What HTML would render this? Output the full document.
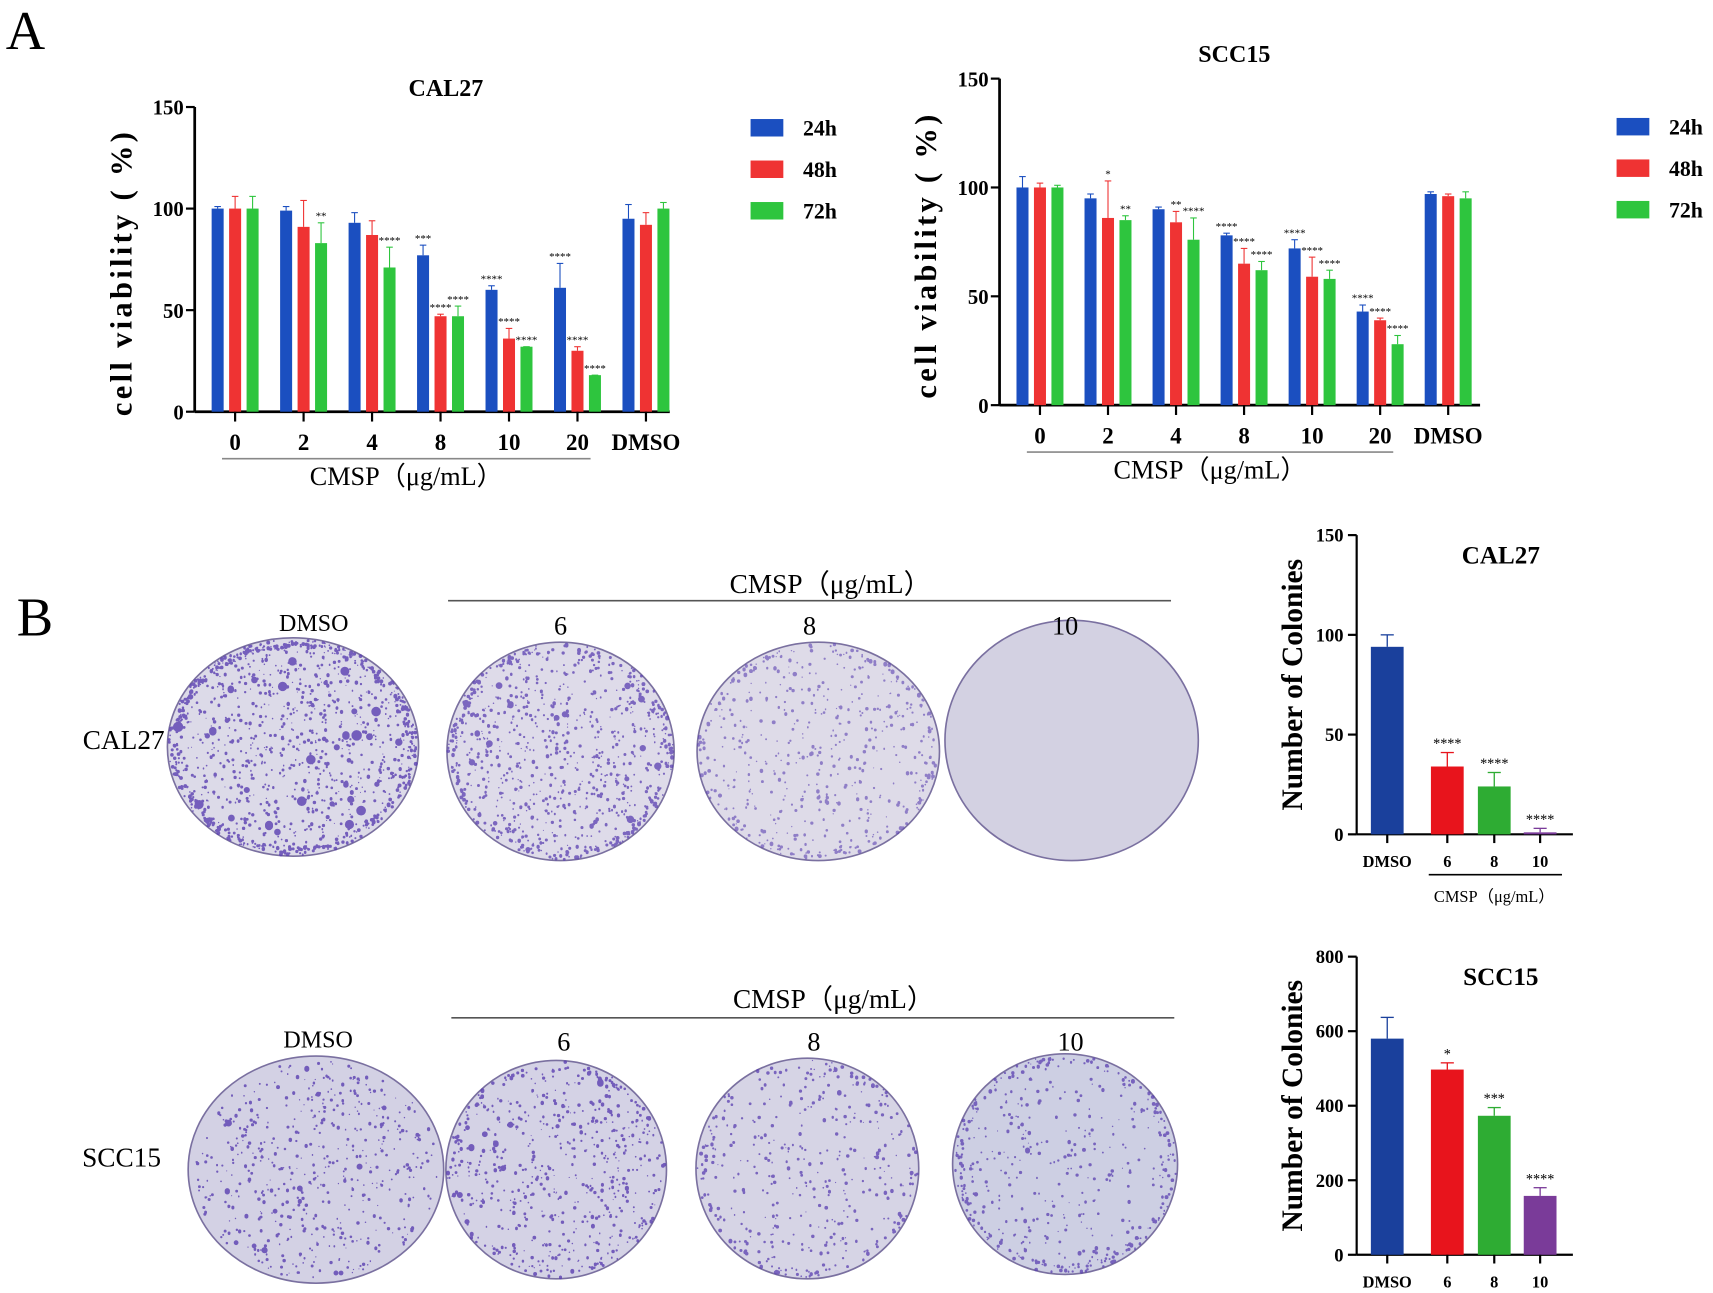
<!DOCTYPE html>
<html><head><meta charset="utf-8"><style>
html,body{margin:0;padding:0;background:#fff}
svg{display:block}
text{font-family:"Liberation Serif",serif}
</style></head><body>
<svg id="fig" width="1713" height="1293" viewBox="0 0 1568 1184" xmlns="http://www.w3.org/2000/svg">
<text x="5" y="45" font-size="50">A</text>
<text x="15" y="582" font-size="50">B</text>
<g id="dishes"></g>
<g id="charts"></g>
</svg>
<script>
// ---- CAL27 viability data ----
const vCats = ["0","2","4","8","10","20","DMSO"];
const seriesNames = ["24h","48h","72h"];
const seriesColors = ["#1b4fc0","#ef3333","#2ec53e"];
const cal24 = [100,99,93,77,60,61,95];
const cal48 = [100,91,87,47,36,30,92];
const cal72 = [100,83,71,47,32,18,100];
const cal24e = [1,2,5,5,2,12,7];
const cal48e = [6,13,7,1,5,2,6];
const cal72e = [6,10,10,5,0,0,3];
const cal24s = ["","","","***","****","****",""];
const cal48s = ["","","","****","****","****",""];
const cal72s = ["","**","****","****","****","****",""];
// ---- SCC15 viability data ----
const scc24 = [100,95,90,78,72,43,97];
const scc48 = [100,86,84,65,59,39,96];
const scc72 = [100,85,76,62,58,28,95];
const scc24e = [5,2,1,1,4,3,1];
const scc48e = [2,17,5,7,9,1,1];
const scc72e = [1,2,10,4,4,4,3];
const scc24s = ["","","","****","****","****",""];
const scc48s = ["","*","**","****","****","****",""];
const scc72s = ["","**","****","****","****","****",""];
const vTicks = [0,50,100,150];
// ---- colonies ----
const cCats = ["DMSO","6","8","10"];
const cColors = ["#1a409c","#e8141c","#2eac33","#7a3b99"];
const colCal = [94,34,24,1];
const colCalE = [6,7,7,2];
const colCalS = ["","****","****","****"];
const colCalTicks = [0,50,100,150];
const colScc = [580,497,373,158];
const colSccE = [57,18,22,22];
const colSccS = ["","*","***","****"];
const colSccTicks = [0,200,400,600,800];

const NS="http://www.w3.org/2000/svg";
function mk(parent,tag,attrs,txt){const e=document.createElementNS(NS,tag);for(const k in attrs)e.setAttribute(k,attrs[k]);if(txt!==undefined)e.textContent=txt;parent.appendChild(e);return e;}
const charts=document.getElementById('charts');

function viability(cfg){
  const g=mk(charts,'g',{});
  
  
  const y=v=>cfg.y0-(v/150)*(cfg.y0-cfg.y150);
  const x=i=>cfg.x0+i*cfg.step;
  mk(g,'line',{x1:cfg.ax,y1:cfg.y150,x2:cfg.ax,y2:cfg.y0,stroke:'#000','stroke-width':2.5});
  mk(g,'line',{x1:cfg.ax,y1:cfg.y0,x2:cfg.axEnd,y2:cfg.y0,stroke:'#000','stroke-width':2.5});
  vTicks.forEach(t=>{
    mk(g,'line',{x1:cfg.ax-8,y1:y(t),x2:cfg.ax,y2:y(t),stroke:'#000','stroke-width':2});
    const tl=mk(g,'text',{x:cfg.ax-10,y:y(t)+7,'font-size':19,'font-weight':'bold','text-anchor':'end','font-family':'Liberation Sans, sans-serif'},t);
    
    
  });
  const bw=11, off=16;
  cfg.vals.forEach((arr,s)=>{
    arr.forEach((v,i)=>{
      const cx=x(i)+(s-1)*off;
      const c=seriesColors[s];
      const e=cfg.errs[s][i];
      mk(g,'line',{x1:cx,y1:y(v),x2:cx,y2:y(v+e),stroke:c,'stroke-width':1});
      mk(g,'line',{x1:cx-3,y1:y(v+e),x2:cx+3,y2:y(v+e),stroke:c,'stroke-width':1});
      const r=mk(g,'rect',{x:cx-bw/2,y:y(v),width:bw,height:y(0)-y(v),fill:c});
      
      
      const st=cfg.stars[s][i];
      if(st){mk(g,'text',{x:cx,y:y(v+e)-3,'font-size':10,'text-anchor':'middle','font-family':'Liberation Sans, sans-serif'},st);}
    });
  });
  vCats.forEach((c,i)=>{
    mk(g,'line',{x1:x(i),y1:cfg.y0,x2:x(i),y2:cfg.y0+9,stroke:'#000','stroke-width':2});
    const t=mk(g,'text',{x:x(i),y:cfg.y0+35,'font-size':21,'font-weight':'bold','text-anchor':'middle'},c);
    
    
  });
  mk(g,'line',{x1:x(0)-12,y1:cfg.y0+43,x2:x(5)+12,y2:cfg.y0+43,stroke:'#888','stroke-width':1.5});
  const xt=mk(g,'text',{x:(x(0)+x(5))/2,y:cfg.y0+67,'font-size':24,'text-anchor':'middle'},'CMSP（μg/mL）');
  
  
  const yt=mk(g,'text',{x:0,y:0,'font-size':28,'font-weight':'bold','text-anchor':'middle',transform:`translate(${cfg.ax-58},${(cfg.y0+cfg.y150)/2+12}) rotate(-90)`,'letter-spacing':'3'},'cell viability ( %)');
  
  
  const tt=mk(g,'text',{x:cfg.titleX,y:cfg.titleY,'font-size':22,'font-weight':'bold','text-anchor':'middle'},cfg.title);
  
  
  seriesNames.forEach((n,s)=>{
    const ly=cfg.legY+s*38;
    const r=mk(g,'rect',{x:cfg.legX,y:ly-8,width:30,height:16,fill:seriesColors[s]});
    
    
    const t=mk(g,'text',{x:cfg.legX+48,y:ly+7,'font-size':20,'font-weight':'bold'},n);
    
    
  });
}
viability({name:'cal27-viability-chart',title:'CAL27',titleX:408,titleY:88,ax:178,axEnd:613,y0:377,y150:98,x0:215,step:62.7,
  vals:[cal24,cal48,cal72],errs:[cal24e,cal48e,cal72e],stars:[cal24s,cal48s,cal72s],legX:687,legY:117});
viability({name:'scc15-viability-chart',title:'SCC15',titleX:1130,titleY:57,ax:915,axEnd:1355,y0:371,y150:72,x0:952,step:62.3,
  vals:[scc24,scc48,scc72],errs:[scc24e,scc48e,scc72e],stars:[scc24s,scc48s,scc72s],legX:1480,legY:116});

function colonies(cfg){
  const g=mk(charts,'g',{});
  
  
  const max=cfg.ticks[cfg.ticks.length-1];
  const y=v=>cfg.y0-(v/max)*(cfg.y0-cfg.yTop);
  const sp=cfg.xs;
  mk(g,'line',{x1:cfg.ax,y1:cfg.yTop,x2:cfg.ax,y2:cfg.y0,stroke:'#000','stroke-width':2});
  mk(g,'line',{x1:cfg.ax,y1:cfg.y0,x2:1440,y2:cfg.y0,stroke:'#000','stroke-width':2});
  cfg.ticks.forEach(t=>{
    mk(g,'line',{x1:cfg.ax-8,y1:y(t),x2:cfg.ax,y2:y(t),stroke:'#000','stroke-width':2});
    const tl=mk(g,'text',{x:cfg.ax-12,y:y(t)+6,'font-size':17,'font-weight':'bold','text-anchor':'end','font-family':'Liberation Sans, sans-serif'},t);
    
    
  });
  cfg.vals.forEach((v,i)=>{
    const cx=sp[i], e=cfg.errs[i], c=cColors[i];
    mk(g,'line',{x1:cx,y1:y(v),x2:cx,y2:y(v+e),stroke:c,'stroke-width':1.2});
    mk(g,'line',{x1:cx-6,y1:y(v+e),x2:cx+6,y2:y(v+e),stroke:c,'stroke-width':1.2});
    const r=mk(g,'rect',{x:cx-15,y:y(v),width:30,height:y(0)-y(v),fill:c});
    
    
    if(cfg.stars[i]) mk(g,'text',{x:cx,y:y(v+e)-4,'font-size':13,'text-anchor':'middle','font-family':'Liberation Sans, sans-serif'},cfg.stars[i]);
    mk(g,'line',{x1:cx,y1:cfg.y0,x2:cx,y2:cfg.y0+8,stroke:'#000','stroke-width':2});
    const t=mk(g,'text',{x:cx,y:cfg.y0+30,'font-size':15,'font-weight':'bold','text-anchor':'middle'},cCats[i]);
    
    
  });
  const yt=mk(g,'text',{x:0,y:0,'font-size':27,'font-weight':'bold','text-anchor':'middle',transform:`translate(${cfg.ax-50},${(cfg.y0+cfg.yTop)/2}) rotate(-90)`},'Number of Colonies');
  
  
  const tt=mk(g,'text',{x:1374,y:cfg.yTop+26,'font-size':23,'font-weight':'bold','text-anchor':'middle'},cfg.title);
  
  
  if(cfg.cmsp){
    mk(g,'line',{x1:1308,y1:cfg.y0+37,x2:1430,y2:cfg.y0+37,stroke:'#000','stroke-width':1.5});
    mk(g,'text',{x:1368,y:cfg.y0+62,'font-size':15,'text-anchor':'middle'},'CMSP（μg/mL）');
  }
}
colonies({name:'cal27-colonies-chart',title:'CAL27',ax:1242,y0:764,yTop:490,ticks:colCalTicks,vals:colCal,errs:colCalE,stars:colCalS,xs:[1270,1325,1368,1410],cmsp:true});
colonies({name:'scc15-colonies-chart',title:'SCC15',ax:1242,y0:1149,yTop:876,ticks:colSccTicks,vals:colScc,errs:colSccE,stars:colSccS,xs:[1270,1325,1368,1410],cmsp:false});

// ---- dishes (decorative photographs) ----
const D=document.getElementById('dishes');
let seed=7;function rnd(){seed=(seed*16807)%2147483647;return seed/2147483647;}
function dot(px,py,r){return `M${(px-r).toFixed(1)},${py.toFixed(1)}a${r.toFixed(1)},${r.toFixed(1)} 0 1,0 ${(2*r).toFixed(1)},0a${r.toFixed(1)},${r.toFixed(1)} 0 1,0 ${(-2*r).toFixed(1)},0`;}
function dish(name,cx,cy,rx,ry,n,big,fill,rimDots,op){
  const g=mk(D,'g',{});
  
  
  mk(g,'ellipse',{cx,cy,rx,ry,fill,stroke:'#7a70a0','stroke-width':1.5});
  let s='';
  for(let i=0;i<n;i++){
    const a=rnd()*Math.PI*2, rr=Math.sqrt(rnd());
    const px=cx+Math.cos(a)*rr*rx*0.96, py=cy+Math.sin(a)*rr*ry*0.96;
    const r=(0.5+rnd()*1.1)*(rnd()<0.04?big:1);
    s+=dot(px,py,r);
  }
  for(let i=0;i<rimDots;i++){
    const a=rnd()*Math.PI*2, rr=0.91+rnd()*0.08;
    s+=dot(cx+Math.cos(a)*rr*rx, cy+Math.sin(a)*rr*ry, 0.6+rnd()*1.2);
  }
  mk(g,'path',{d:s,fill:'#5a3fb0','fill-opacity':op});
}
dish('dish-cal27-dmso',268,684,115,100,800,3,'#dcdae8',450,0.8);
dish('dish-cal27-6',513,688,104,100,650,2.2,'#dedbe9',250,0.75);
dish('dish-cal27-8',749,688,111,100,400,1.4,'#dedbe8',150,0.6);
dish('dish-cal27-10',981,678,116,110,0,1,'#d3d1e2',0,0.5);
dish('dish-scc15-dmso',289,1071,117,104,550,2,'#d3d1e4',0,0.8);
dish('dish-scc15-6',509,1071,101,100,500,2,'#d4d2e5',120,0.8);
dish('dish-scc15-8',739,1070,102,101,320,1.5,'#d6d4e5',100,0.75);
dish('dish-scc15-10',975,1066,103,101,280,1.5,'#cdcfe3',200,0.75);

const lbls=[
 ['cmsp-header-row1',760,543,25,'CMSP（μg/mL）'],['dose-dmso-row1',287,578,22,'DMSO'],['dose-6-row1',513,581,24,'6'],['dose-8-row1',741,581,24,'8'],['dose-10-row1',975,581,24,'10'],
 ['cmsp-header-row2',763,923,25,'CMSP（μg/mL）'],['dose-dmso-row2',291,959,22,'DMSO'],['dose-6-row2',516,962,24,'6'],['dose-8-row2',745,962,24,'8'],['dose-10-row2',980,962,24,'10'],
 ['row-label-cal27',113,686,25,'CAL27'],['row-label-scc15',111,1068,25,'SCC15']];
lbls.forEach(l=>{
  const t=mk(D,'text',{x:l[1],y:l[2],'font-size':l[3],'text-anchor':'middle'},l[4]);
  
  
});
mk(D,'line',{x1:410,y1:550,x2:1072,y2:550,stroke:'#555','stroke-width':1.5});
mk(D,'line',{x1:413,y1:932,x2:1075,y2:932,stroke:'#555','stroke-width':1.5});
</script>
</body></html>
